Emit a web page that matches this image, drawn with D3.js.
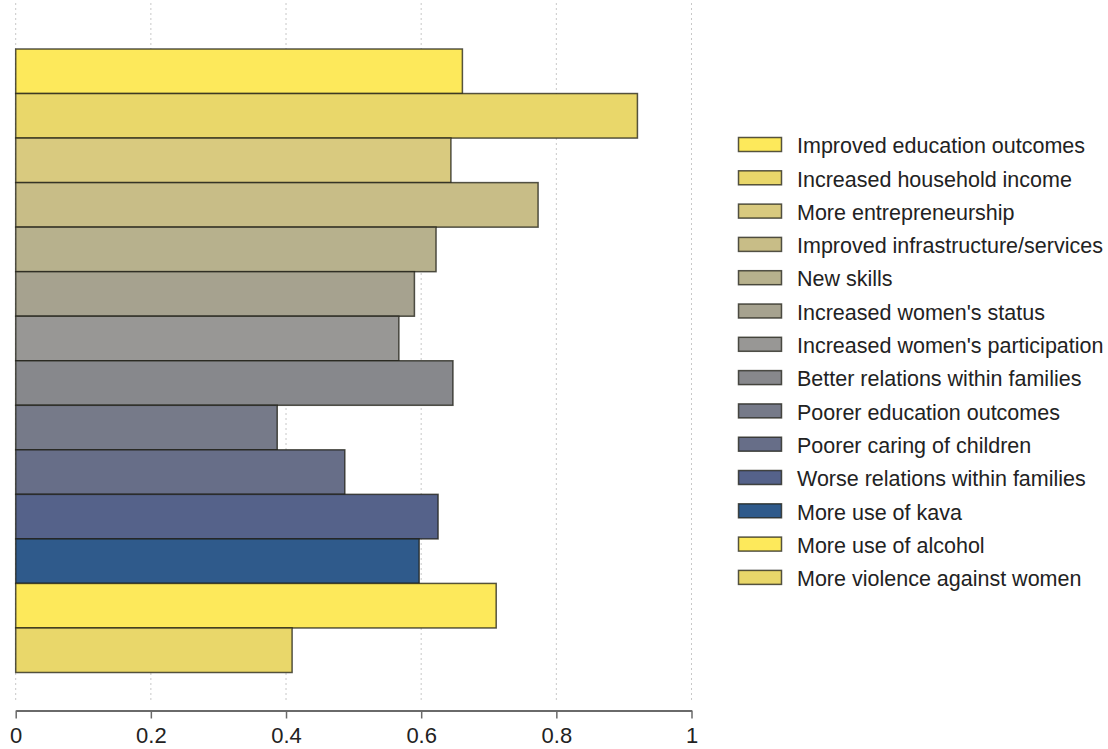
<!DOCTYPE html>
<html>
<head>
<meta charset="utf-8">
<script src="https://cdn.jsdelivr.net/npm/d3@7"></script>
<style>
html,body{margin:0;padding:0;background:#fff;}
svg{display:block;}
text{font-family:"Liberation Sans", Arial, Helvetica, sans-serif;}
</style>
</head>
<body>
<svg id="chart" width="1108" height="749"></svg>
<script>
const categories = [
  "Improved education outcomes",
  "Increased household income",
  "More entrepreneurship",
  "Improved infrastructure/services",
  "New skills",
  "Increased women's status",
  "Increased women's participation",
  "Better relations within families",
  "Poorer education outcomes",
  "Poorer caring of children",
  "Worse relations within families",
  "More use of kava",
  "More use of alcohol",
  "More violence against women"
];
const values = [0.661, 0.920, 0.644, 0.773, 0.622, 0.590, 0.567, 0.647, 0.387, 0.487, 0.625, 0.597, 0.711, 0.409];
const colors = ["#FDE95B", "#E9D76A", "#D9CA7F", "#C8BD87", "#B7B18D", "#A6A28F", "#989795", "#87888C",
                "#767A89", "#676E88", "#55628A", "#2F5A8B", "#FDE95B", "#E9D76A"];
const tickValues = [0, 0.2, 0.4, 0.6, 0.8, 1];
const tickLabels = ["0", "0.2", "0.4", "0.6", "0.8", "1"];

const svg = d3.select("#chart");
const x = d3.scaleLinear().domain([0, 1]).range([15.7, 691.5]);
const y = d3.scaleBand().domain(categories).range([49, 672.5]).padding(0);

// gridlines
svg.append("g").selectAll("line").data(tickValues).join("line")
  .attr("x1", d => x(d)).attr("x2", d => x(d))
  .attr("y1", 3).attr("y2", 702)
  .attr("stroke", "#c8c8c8").attr("stroke-width", 1)
  .attr("stroke-dasharray", "2,3");

// bars
svg.append("g").selectAll("rect").data(categories).join("rect")
  .attr("x", x(0))
  .attr("y", d => y(d))
  .attr("width", (d, i) => x(values[i]) - x(0))
  .attr("height", y.bandwidth())
  .attr("fill", (d, i) => colors[i])
  .attr("stroke", "rgba(30,30,20,0.75)")
  .attr("stroke-width", 1.5);

// axis
const axis = d3.axisBottom(x).tickValues(tickValues)
  .tickFormat((d, i) => tickLabels[i]).tickSize(8).tickSizeOuter(0).tickPadding(9);
const ag = svg.append("g").attr("transform", "translate(0,710.5)").call(axis);
ag.select(".domain").attr("stroke", "#6a6a6a").attr("stroke-width", 2);
ag.selectAll(".tick line").attr("stroke", "#6a6a6a").attr("stroke-width", 1.5);
ag.selectAll(".tick text").attr("font-size", 22).attr("fill", "#222")
  .attr("font-family", "Liberation Sans, Arial, sans-serif");

// legend
const lg = svg.append("g");
const items = lg.selectAll("g").data(categories).join("g")
  .attr("transform", (d, i) => `translate(738.5,${137.5 + i * 33.3})`);
items.append("rect").attr("width", 43).attr("height", 14)
  .attr("fill", (d, i) => colors[i])
  .attr("stroke", "rgba(30,30,20,0.75)").attr("stroke-width", 1.5);
items.append("text").attr("x", 58.5).attr("y", 8).attr("dy", "0.36em")
  .attr("font-size", 21.5).attr("fill", "#222").text(d => d);
</script>
</body>
</html>
